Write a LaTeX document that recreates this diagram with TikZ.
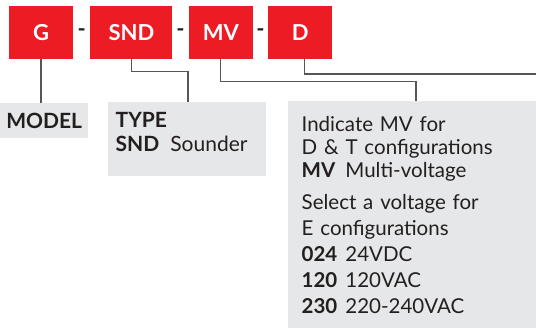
\documentclass[tikz,border=0pt]{standalone}
\usepackage{fontspec}
\setmainfont{Lato}
\usepackage{xcolor}
\usepackage{tikz}
\usetikzlibrary{positioning,calc}
\definecolor{codered}{RGB}{237,28,36}
\definecolor{infogray}{RGB}{230,231,232}
\definecolor{leadgray}{RGB}{85,86,88}
\definecolor{inktext}{RGB}{35,31,32}
\tikzset{
  codebox/.style={fill=codered, text=white, font=\fontsize{22}{24}\selectfont\bfseries,
                  minimum width=64pt, minimum height=53pt, inner sep=0pt},
  codesep/.style={text=inktext, font=\fontsize{22}{24}\selectfont\bfseries,
                  inner sep=0pt, anchor=base},
  infobox/.style={fill=infogray, text=inktext, anchor=north west, align=left,
                  font=\fontsize{21}{24}\selectfont, inner ysep=0pt},
  leader/.style={leadgray, line width=1.3pt}
}
\begin{document}
\begin{tikzpicture}[node distance=16pt]
    \useasboundingbox (0,0) rectangle (536pt,-327pt);
    \node[codebox] (g) at (41pt,-32.5pt) {G};
    \node[codebox, minimum width=82pt, right=17pt of g] (snd) {SND};
    \node[codebox, right=of snd] (mv) {MV};
    \node[codebox, right=15pt of mv] (d) {D};

    \node[codesep] (sep1) at ($(g.east)!0.5!(snd.west)+(0,-3.5pt)$) {-};
    \node[codesep] (sep2) at ($(snd.east)!0.5!(mv.west)+(0,-3.5pt)$) {-};
    \node[codesep] (sep3) at ($(mv.east)!0.5!(d.west)+(0,-3.5pt)$) {-};

    \node[infobox, text width=88pt, inner xsep=0pt, align=center,
          text height=25pt, text depth=10pt] (model) at (0,-103pt) {\textbf{MODEL}};
    \node[infobox, text width=143pt, inner xsep=7.5pt,
          text height=25pt, text depth=49pt] (type) at (108pt,-102pt)
      {\textbf{TYPE}\\ \textbf{SND}\hspace{11pt}Sounder};
    \node[infobox, font=\fontsize{20.5}{23}\selectfont, text width=230pt, inner xsep=13.5pt,
          text height=30pt, text depth=210pt] (info) at (288pt,-101pt)
      {Indicate MV for\\ D \& T configurations\\ \textbf{MV}\hspace{10pt}Multi-voltage\\[9pt]
       Select a voltage for\\[3pt] E configurations\\[3pt]
       \textbf{024}\hspace{8pt}24VDC\\[3pt] \textbf{120}\hspace{8pt}120VAC\\[3pt]
       \textbf{230}\hspace{8pt}220-240VAC};

    \coordinate (typein) at ($(type.north west)+(80pt,0)$);
    \coordinate (infoin) at ($(info.north west)+(128pt,0)$);
    \coordinate (dout) at (536pt,-74pt);

    \draw[leader] (g.south) -- (g.south |- model.north);
    \draw[leader] (snd.south) -- ++(0,-12.5pt) -| (typein);
    \draw[leader] (mv.south) -- ++(0,-22.5pt) -| (infoin);
    \draw[leader] ([xshift=4pt]d.south) |- (dout);
  \end{tikzpicture}
\end{document}
